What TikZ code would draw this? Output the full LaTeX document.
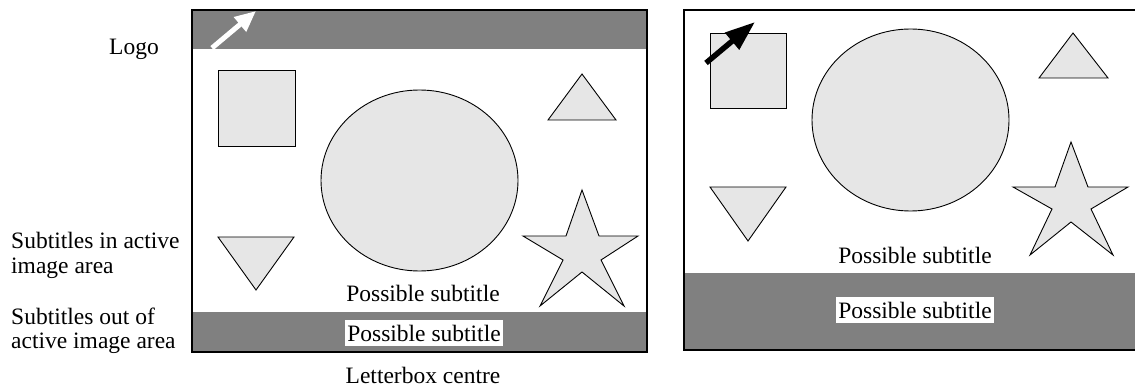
\documentclass[tikz,border=0pt]{standalone}
\usepackage{fontspec}
\setmainfont{Liberation Serif}
\usetikzlibrary{arrows.meta}
\definecolor{bandgray}{RGB}{128,128,128}
\definecolor{shapegray}{RGB}{230,230,230}
\begin{document}
\begin{tikzpicture}[x=1pt,y=-1pt,
  shp/.style={draw=black, line width=0.9pt, fill=shapegray, line join=miter},
  band/.style={fill=bandgray},
  frm/.style={draw=black, line width=1.3pt},
  lbl/.style={font=\fontsize{23.5}{25}\selectfont, inner sep=0pt, anchor=base},
  lbll/.style={lbl, anchor=base west},
  subbox/.style={lbl, fill=white, text height=21pt, text depth=5.2pt, inner xsep=2pt, inner ysep=0pt},
  logoarrow/.style={line width=5pt, -{Triangle[length=21pt,width=18pt]}},
  blackarrow/.style={line width=5.5pt, -{Triangle[length=30pt,width=21pt]}}
]
\useasboundingbox (0,0) rectangle (1135,390);

% ---------- left panel (letterbox) ----------
\fill[band] (192,10) rectangle (647,49);
\fill[band] (192,312) rectangle (647,352);
\draw[frm] (192,10) rectangle (647,352);
\draw[white, logoarrow] (212,48) -- (256,11);

\draw[shp] (218,70) rectangle (295,146);
\draw[shp] (419.5,180.5) ellipse [x radius=98.5pt, y radius=90.5pt];
\draw[shp] (582,74) -- (616,120) -- (548,120) -- cycle;
\draw[shp] (218,237) -- (294,237) -- (256,290) -- cycle;
\draw[shp] (582,190) -- (599,236) -- (638,236) -- (601,260) -- (624,306) -- (582,272)
  -- (540,306) -- (563,260) -- (523,236) -- (566,236) -- cycle;

\node[lbl] (lsub1) at (423,301) {Possible subtitle};
\node[subbox] (lsub2) at (424,341) {Possible subtitle};
\node[lbl] (lbc) at (423,383) {Letterbox centre};

% ---------- side labels ----------
\node[lbl] (logo) at (134,55) {Logo};
\node[lbll] (sia1) at (11,248) {Subtitles in active};
\node[lbll] (sia2) at (11,273) {image area};
\node[lbll] (soa1) at (11,324) {Subtitles out of};
\node[lbll] (soa2) at (11,348) {active image area};

% ---------- right panel ----------
\fill[band] (684,273) rectangle (1137,350);
\draw[frm] (1137,10) -- (684,10) -- (684,350) -- (1137,350);

\draw[shp] (710,33) rectangle (786,108);
\draw[black, blackarrow] (706,63) -- (755,22);
\draw[shp] (910.5,120) ellipse [x radius=98.5pt, y radius=91pt];
\draw[shp] (1073,33) -- (1108,78) -- (1039,78) -- cycle;
\draw[shp] (710,187) -- (786,187) -- (748,241) -- cycle;
\draw[shp] (1071,142) -- (1088,187) -- (1128,187) -- (1091,209) -- (1113,255) -- (1071,222)
  -- (1030,255) -- (1052,209) -- (1013,187) -- (1055,187) -- cycle;

\node[lbl] (rsub1) at (915,263) {Possible subtitle};
\node[subbox] (rsub2) at (915,318) {Possible subtitle};
\end{tikzpicture}
\end{document}
